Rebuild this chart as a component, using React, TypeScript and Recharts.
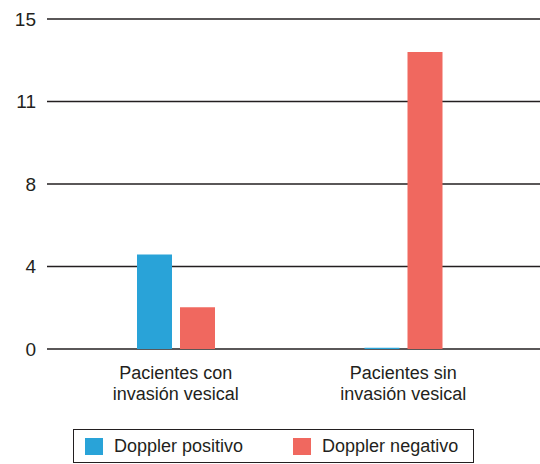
import { Bar, BarChart, CartesianGrid, XAxis, YAxis } from "recharts";

const categories = ["Pacientes con\ninvasión vesical", "Pacientes sin\ninvasión vesical"];
const dopplerPositivo = [4.3, 0.06];
const dopplerNegativo = [1.9, 13.5];
const yTicks = [0, 3.75, 7.5, 11.25, 15];
const yTickLabels = ["0", "4", "8", "11", "15"];
const seriesNames = ["Doppler positivo", "Doppler negativo"];

const BLUE = "#29a3d8";
const RED = "#f0685f";
const INK = "#231f20";
const FONT = "'Liberation Sans', Arial, Helvetica, sans-serif";

const data = categories.map((name, i) => ({
  name,
  positivo: dopplerPositivo[i],
  negativo: dopplerNegativo[i],
}));

function CategoryTick({ x, y, payload }: any) {
  const lines = String(payload.value).split("\n");
  return (
    <text x={x} y={y} textAnchor="middle" fill={INK} fontSize={18} fontFamily={FONT}>
      {lines.map((line, i) => (
        <tspan key={i} x={x} y={y + 30 + i * 21}>
          {line}
        </tspan>
      ))}
    </text>
  );
}

export default function App() {
  const swatches = [BLUE, RED];
  return (
    <div style={{ position: "absolute", left: 0, top: 0, width: 540, height: 464, fontFamily: FONT, background: "#fff" }}>
      <BarChart
        width={540}
        height={464}
        data={data}
        margin={{ top: 19, right: 0, left: 0, bottom: 55 }}
        barSize={35}
        barGap={8}
      >
        <CartesianGrid vertical={false} stroke={INK} strokeWidth={1.5} />
        <XAxis
          dataKey="name"
          height={60}
          axisLine={false}
          tickLine={false}
          tickSize={0}
          tickMargin={0}
          padding={{ left: 15, right: 23 }}
          interval={0}
          tick={<CategoryTick />}
        />
        <YAxis
          width={47}
          domain={[0, 15]}
          ticks={yTicks}
          interval={0}
          axisLine={false}
          tickLine={false}
          tickSize={0}
          tickMargin={11}
          tick={{ fontSize: 19, fill: INK, fontFamily: FONT }}
          tickFormatter={(v) => yTickLabels[yTicks.indexOf(Number(v))] ?? String(v)}
        />
        <Bar dataKey="positivo" name={seriesNames[0]} fill={BLUE} isAnimationActive={false} />
        <Bar dataKey="negativo" name={seriesNames[1]} fill={RED} isAnimationActive={false} />
      </BarChart>
      <div
        style={{
          position: "absolute",
          left: 73,
          top: 429,
          width: 401,
          height: 34,
          border: `1.5px solid ${INK}`,
          boxSizing: "border-box",
          display: "flex",
          alignItems: "center",
          fontSize: 18,
          color: INK,
        }}
      >
        {seriesNames.map((n, i) => (
          <div key={n} style={{ display: "flex", alignItems: "center", marginLeft: i === 0 ? 11 : 50 }}>
            <span style={{ display: "inline-block", width: 18, height: 17, background: swatches[i], marginRight: 11 }} />
            <span>{n}</span>
          </div>
        ))}
      </div>
    </div>
  );
}
